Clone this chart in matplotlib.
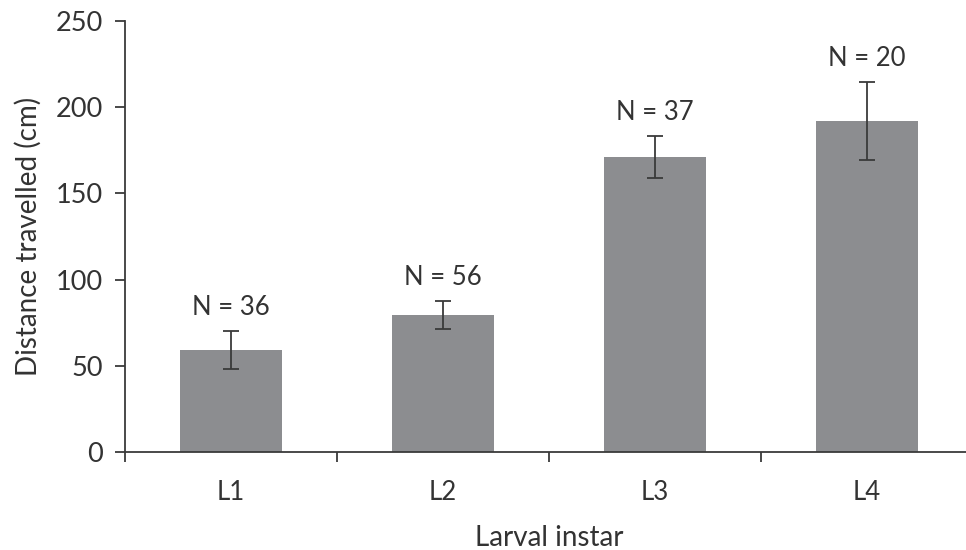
import matplotlib
matplotlib.use("Agg")
import matplotlib.pyplot as plt

categories = ["L1", "L2", "L3", "L4"]
means = [59, 79.5, 171, 192]
errors = [11, 8, 12, 22.5]
n_labels = ["N = 36", "N = 56", "N = 37", "N = 20"]
y_ticks = [0, 50, 100, 150, 200, 250]

plt.rcParams['font.family'] = ['Lato', 'DejaVu Sans']
text_color = "#333333"
bar_color = "#8c8d90"

fig = plt.figure(figsize=(9.66, 5.5), dpi=100)
ax = fig.add_axes([125/966, (550-452.3)/550, 848/966, 431.6/550])

x = list(range(len(categories)))
ax.bar(x, means, width=0.48, color=bar_color, zorder=2)
ax.errorbar(x, means, yerr=errors, fmt='none', ecolor="#3a3a3a",
            elinewidth=1.3, capsize=6, capthick=1.3, zorder=3)

for xi, m, e, lab in zip(x, means, errors, n_labels):
    ax.annotate(lab, (xi, m + e), xytext=(0, 17), textcoords='offset points',
                ha='center', va='center', fontsize=18.5, color=text_color)

ax.set_xlim(-0.5, 3.5)
ax.set_ylim(0, 250)
ax.set_yticks(y_ticks)
ax.set_yticklabels([str(t) for t in y_ticks], fontsize=19.5, color=text_color)
ax.set_xticks(x)
ax.set_xticklabels(categories, fontsize=18.5, color=text_color)
ax.tick_params(axis='x', which='major', length=0, pad=20)
ax.set_xticks([-0.5, 0.5, 1.5, 2.5, 3.5], minor=True)
ax.tick_params(axis='x', which='minor', length=7, width=1.3, color="#3a3a3a", direction='out')
ax.tick_params(axis='y', length=7, width=1.3, color="#3a3a3a", pad=9)

for s in ['top', 'right']:
    ax.spines[s].set_visible(False)
for s in ['left', 'bottom']:
    ax.spines[s].set_color("#3a3a3a")
    ax.spines[s].set_linewidth(1.3)

ax.set_ylabel("Distance travelled (cm)", fontsize=20, color=text_color, labelpad=10)
ax.set_xlabel("Larval instar", fontsize=20, color=text_color, labelpad=14)

fig.savefig("out.png", dpi=100)
